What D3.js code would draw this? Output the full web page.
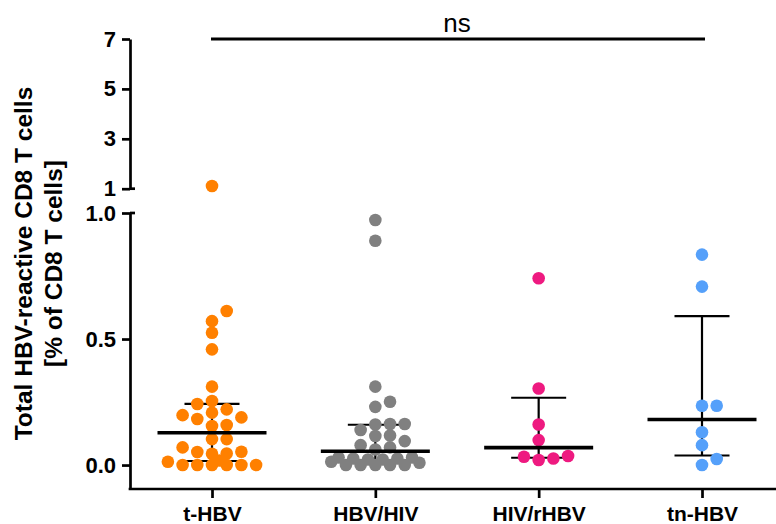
<!DOCTYPE html>
<html>
<head>
<meta charset="utf-8">
<script src="https://cdn.jsdelivr.net/npm/d3@7"></script>
<style>
body { margin: 0; background: #fff; }
svg text { font-family: "Liberation Sans", Arial, sans-serif; }
</style>
</head>
<body>
<div class="viz"></div>
<script>
// values (% of CD8 T cells)
let categories = ["t-HBV", "HBV/HIV", "HIV/rHBV", "tn-HBV"];
let tHBV = [1.108, 0.611, 0.571, 0.525, 0.459, 0.311, 0.254, 0.242, 0.221, 0.208, 0.198, 0.189, 0.183, 0.159, 0.155,
	0.103, 0.103, 0.070, 0.053, 0.052, 0.046, 0.045, 0.018, 0.013, 0, 0, 0, 0, 0, 0];
let hbvHiv = [0.972, 0.890, 0.311, 0.251, 0.231, 0.163, 0.163, 0.161, 0.139, 0.117, 0.115, 0.095, 0.079, 0.070, 0.062,
	0.030, 0.030, 0.026, 0.026, 0.022, 0.022, 0.013, 0.009, 0, 0, 0, 0, 0];
let hivRhbv = [0.741, 0.304, 0.161, 0.099, 0.036, 0.033, 0.026, 0.020];
let tnHbv = [0.835, 0.708, 0.235, 0.235, 0.130, 0.079, 0.024, 0];
let medians = [0.128, 0.055, 0.069, 0.181];
let q1 = [0.016, 0.010, 0.029, 0.038];
let q3 = [0.243, 0.160, 0.267, 0.591];
let lowTicks = [0, 0.5, 1.0];
let upTicks = [1, 3, 5, 7];
let colors = ["#ff8000", "#808080", "#ee1a80", "#55a0fa"];
let groups = [tHBV, hbvHiv, hivRhbv, tnHbv];

let width = 776, height = 524;

let svg = d3.select('.viz').append('svg')
	.attr('width', width)
	.attr('height', height);

let axisX = 130, baseY = 489;

let x = d3.scalePoint()
	.domain(categories)
	.range([212, 702]);

// broken y axis: lower part 0-1, upper part 1-7
let yLow = d3.scaleLinear()
	.domain([-0.095, 1])
	.range([baseY, 213]);

let yUp = d3.scaleLinear()
	.domain([1, 7])
	.range([188.7, 39]);

function yPos(v) {
	return v > 1 ? yUp(v) : yLow(v);
}

// prism-like scatter: whole slots near the middle first, then half slots
// (rows sitting on a full row), then wider whole slots
let step = 14.7, ax = 7.9, ay = 11;
let slots = [];
[[0, 3, 1], [0.5, 20, 1], [4, 20, 1]].forEach(s => {
	for (let k = s[0]; k <= s[1]; k += s[2]) {
		if (k === 0) slots.push(0);
		else slots.push(k * step, -k * step);
	}
});

function swarm(values) {
	let placed = [];
	let sorted = values.map(v => ({v: v, y: yPos(v)})).sort((a, b) => b.y - a.y);
	sorted.forEach(p => {
		for (let c of slots) {
			let ok = placed.every(q => {
				let dx = (q.dx - c) / ax, dy = (q.y - p.y) / ay;
				return dx * dx + dy * dy >= 1;
			});
			if (ok) { p.dx = c; break; }
		}
		placed.push(p);
	});
	return placed;
}

// lower y axis
let gLow = svg.append('g')
	.attr('transform', 'translate(' + axisX + ',0)')
	.call(d3.axisLeft(yLow).tickValues(lowTicks).tickFormat(d3.format('.1f')).tickSize(8).tickPadding(6).tickSizeOuter(0));

let gUp = svg.append('g')
	.attr('transform', 'translate(' + axisX + ',0)')
	.call(d3.axisLeft(yUp).tickValues(upTicks).tickFormat(d3.format('d')).tickSize(8).tickPadding(6).tickSizeOuter(0));

[gLow, gUp].forEach(g => {
	g.selectAll('path, line').attr('stroke', '#000').attr('stroke-width', 2.7);
	g.selectAll('text').attr('font-size', 22).attr('font-weight', 'bold').attr('fill', '#000');
});

// little caps at the break
[yUp(1), yLow(1)].forEach(yy => {
	svg.append('line')
		.attr('x1', axisX).attr('x2', axisX + 5)
		.attr('y1', yy).attr('y2', yy)
		.attr('stroke', '#000').attr('stroke-width', 2.7);
});

// x axis
let gX = svg.append('g')
	.attr('transform', 'translate(0,' + baseY + ')')
	.call(d3.axisBottom(x).tickSize(9).tickPadding(8));
gX.select('.domain').remove();
gX.selectAll('line').attr('stroke', '#000').attr('stroke-width', 2.7);
gX.selectAll('text').attr('font-size', 21).attr('font-weight', 'bold').attr('fill', '#000');

svg.append('line')
	.attr('x1', axisX - 1.35).attr('x2', width)
	.attr('y1', baseY).attr('y2', baseY)
	.attr('stroke', '#000').attr('stroke-width', 2.7);

// error bars (under the dots)
categories.forEach((c, i) => {
	let g = svg.append('g').attr('stroke', '#000').attr('stroke-width', 2.2);
	g.append('line')
		.attr('x1', x(c)).attr('x2', x(c))
		.attr('y1', yLow(q1[i])).attr('y2', yLow(q3[i]));
	[q1[i], q3[i]].forEach(v => {
		g.append('line')
			.attr('x1', x(c) - 27.5).attr('x2', x(c) + 27.5)
			.attr('y1', yLow(v)).attr('y2', yLow(v));
	});
});

// dots
groups.forEach((vals, i) => {
	svg.append('g')
		.selectAll('circle')
		.data(swarm(vals))
		.enter().append('circle')
		.attr('cx', d => x(categories[i]) + d.dx)
		.attr('cy', d => d.y)
		.attr('r', 6.3)
		.attr('fill', colors[i]);
});

// medians on top
svg.append('g')
	.selectAll('line')
	.data(medians)
	.enter().append('line')
	.attr('x1', (d, i) => x(categories[i]) - 54.5)
	.attr('x2', (d, i) => x(categories[i]) + 54.5)
	.attr('y1', d => yLow(d))
	.attr('y2', d => yLow(d))
	.attr('stroke', '#000')
	.attr('stroke-width', 3.6);

// ns bracket
svg.append('line')
	.attr('x1', x(categories[0]) - 1).attr('x2', x(categories[3]) + 3)
	.attr('y1', yUp(7)).attr('y2', yUp(7))
	.attr('stroke', '#000').attr('stroke-width', 3.2);

svg.append('text')
	.attr('x', (x(categories[0]) + x(categories[3])) / 2)
	.attr('y', 32)
	.attr('text-anchor', 'middle')
	.attr('font-size', 26)
	.text('ns');

// y title
let titleLines = ["Total HBV-reactive CD8 T cells", "[% of CD8 T cells]"];
svg.append('g')
	.selectAll('text')
	.data(titleLines)
	.enter().append('text')
	.attr('transform', (d, i) => 'translate(' + (32 + i * 29.5) + ',263.5)rotate(-90)')
	.attr('text-anchor', 'middle')
	.attr('font-size', 24.5)
	.attr('font-weight', 'bold')
	.text(d => d);
</script>
</body>
</html>
